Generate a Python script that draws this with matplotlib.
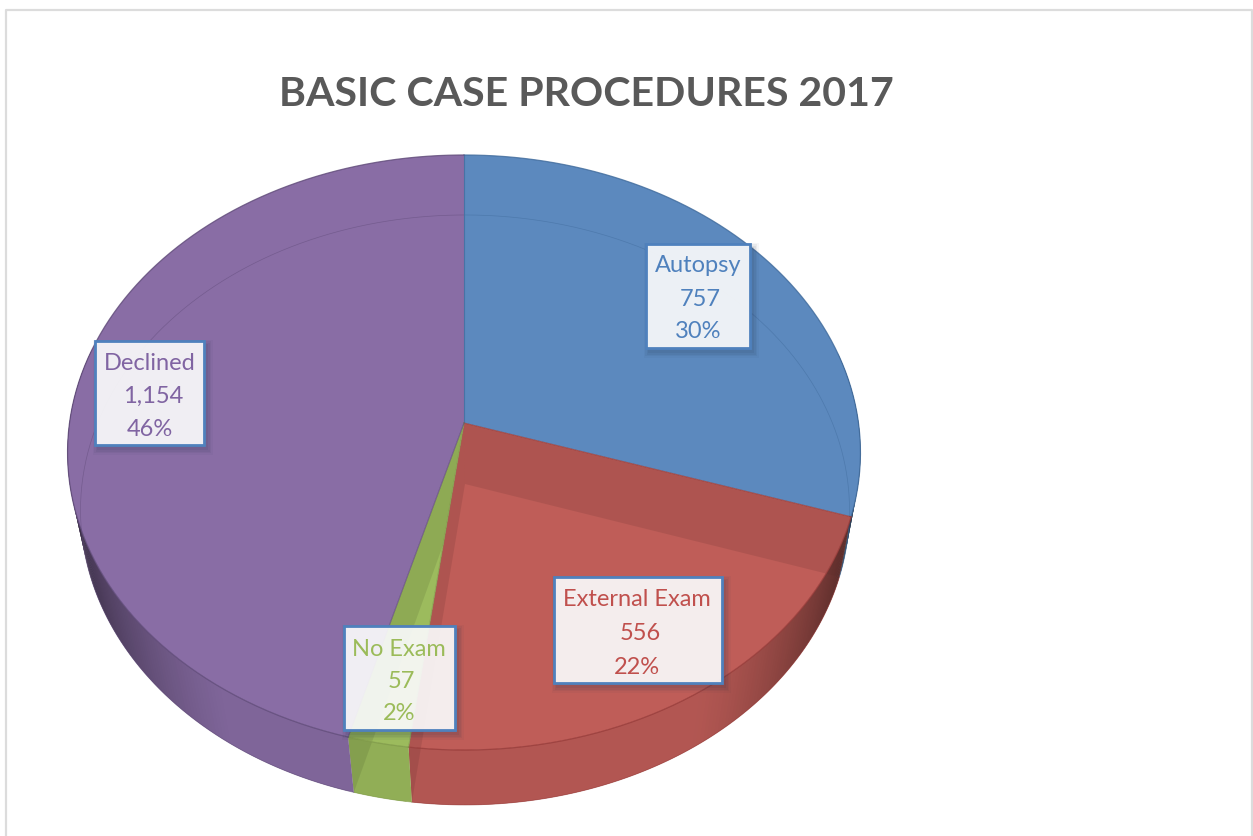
import numpy as np
import matplotlib
matplotlib.use("Agg")
import matplotlib.pyplot as plt
from matplotlib.patches import Polygon, Rectangle
from matplotlib.colors import to_rgb

# ---- data ----
categories = ["Autopsy", "External Exam", "No Exam", "Declined"]
values = [757, 556, 57, 1154]
percent_labels = ["30%", "22%", "2%", "46%"]

# ---- style ----
top_colors = ["#5c89be", "#bf5d58", "#9cbb5d", "#896da5"]
edge_colors = ["#3f6a9b", "#963a38", "#7f9a48", "#5f4a78"]
text_colors = ["#4f81bd", "#c0504d", "#9bbb59", "#8064a2"]
box_rects = [(646, 244, 750, 348), (554, 577, 722, 683), (344, 626, 455, 730), (95, 341, 204, 445)]
text_x = [698, 637, 399, 150]
text_y = [[266, 299, 332], [600, 634, 667], [649, 682, 714], [364, 396, 429]]
line_dx = [[0, 2, 0], [0, 3, 0], [0, 2, 0], [0, 3, 0]]
walls = {1: [0, 1], 2: [1]}   # wedge index -> radial walls seen through the top face

TOP = dict(cx=464.0, cy=423.0, R=394.5, H=294.6, k=0.0992)
BOT = dict(cx=465.0, cy=484.0, R=383.0, H=292.7, k=0.088)


def project(theta, p):
    x, y = np.sin(theta), np.cos(theta)
    w = 1.0 / (1.0 + p["k"] * y)
    return p["cx"] + p["R"] * x * w, p["cy"] - p["H"] * y * w


def pts(theta, p):
    return np.column_stack(project(np.asarray(theta), p))


def shade(rgb, f):
    return tuple(np.clip(np.array(rgb) * f, 0, 1))


fig = plt.figure(figsize=(12.53, 8.36), dpi=100, facecolor="white")
ax = fig.add_axes([0, 0, 1, 1])
ax.set_xlim(0, 1253)
ax.set_ylim(836, 0)
ax.axis("off")

# outer frame
ax.plot([5.5, 5.5, 1252, 1252], [836, 10, 10, 836], color="#dcdcdc", lw=1.6, zorder=0)

fractions = np.array(values) / np.sum(values)
edges = np.concatenate([[0], np.cumsum(fractions)]) * 2 * np.pi
apex_top = np.array([TOP["cx"], TOP["cy"]])
apex_bot = np.array([BOT["cx"], BOT["cy"]])


def wedge_poly(i, p, apex):
    t = np.linspace(edges[i], edges[i + 1], 200)
    return np.vstack([apex, pts(t, p)])


def wall_poly(theta):
    a = pts([theta], TOP)[0]
    b = pts([theta], BOT)[0]
    return np.vstack([apex_top, a, b, apex_bot])


# side faces
for i, col in enumerate(top_colors):
    rgb = to_rgb(col)
    t = np.linspace(edges[i], edges[i + 1], max(int((edges[i + 1] - edges[i]) * 90), 4))
    step = t[1] - t[0]
    for a, b in zip(t[:-1], t[1:]):
        if np.cos((a + b) / 2) > 0.25:
            continue
        u = abs(np.sin((a + b) / 2))
        f = 0.93 - 0.52 * (max(0.0, u - 0.55) / 0.45) ** 1.3
        b2 = min(b + step, edges[i + 1])
        q = np.vstack([pts([a, b2], TOP), pts([b2, a], BOT)])
        ax.add_patch(Polygon(q, closed=True, fc=shade(rgb, f), ec="none", zorder=1))
    # radial walls seen through the side
    if i in walls:
        tt = np.linspace(edges[i], edges[i + 1], 200)
        sp = np.vstack([pts(tt, TOP), pts(tt[::-1], BOT)])
        clip = Polygon(sp, closed=True, transform=ax.transData)
        for w in walls[i]:
            patch = ax.add_patch(Polygon(wall_poly(edges[i + w]), closed=True,
                                         fc=shade(rgb, 0.45), ec="none", alpha=0.16, zorder=2))
            patch.set_clip_path(clip)
    # lower silhouette
    mask = np.cos(t) < 0.25
    if mask.any():
        ax.plot(*project(t[mask], BOT), color=edge_colors[i], lw=0.6, alpha=0.6, zorder=2)

# top faces, with what shows through them
for i, col in enumerate(top_colors):
    rgb = to_rgb(col)
    poly = wedge_poly(i, TOP, apex_top)
    ax.add_patch(Polygon(poly, closed=True, fc=col, ec="none", zorder=3))
    clip = Polygon(poly, closed=True, transform=ax.transData)
    if i in walls:
        for w in walls[i]:
            patch = ax.add_patch(Polygon(wall_poly(edges[i + w]), closed=True,
                                         fc=shade(rgb, 0.45), ec="none", alpha=0.16, zorder=4))
            patch.set_clip_path(clip)
    else:
        t = np.linspace(edges[i], edges[i + 1], 300)
        line, = ax.plot(*project(t, BOT), color=edge_colors[i], lw=0.5, alpha=0.5, zorder=4)
        line.set_clip_path(clip)

for i in range(len(values)):
    t = np.linspace(edges[i], edges[i + 1], 200)
    ax.plot(*project(t, TOP), color=edge_colors[i], lw=0.9, alpha=0.8, zorder=5)
    rim = pts([edges[i]], TOP)[0]
    ax.plot([apex_top[0], rim[0]], [apex_top[1], rim[1]], color=edge_colors[i], lw=0.8, alpha=0.7, zorder=5)

# data labels
for i, name in enumerate(categories):
    x0, y0, x1, y1 = box_rects[i]
    for grow, a in zip([11, 8, 5, 2], [0.04, 0.06, 0.07, 0.08]):
        ax.add_patch(Rectangle((x0 + 3 - grow / 2, y0 + 4 - grow / 2), x1 - x0 + grow, y1 - y0 + grow,
                               fc="#20304a", ec="none", alpha=a, zorder=6))
    ax.add_patch(Rectangle((x0, y0), x1 - x0, y1 - y0, fc="white", ec="none", alpha=0.9, zorder=7))
    ax.add_patch(Rectangle((x0, y0), x1 - x0, y1 - y0, fc="none", ec="#4f81bd", lw=2.0, zorder=8))
    lines = [name, f"{values[i]:,}", percent_labels[i]]
    for line_text, yy, dx in zip(lines, text_y[i], line_dx[i]):
        ax.text(text_x[i] + dx, yy, line_text, color=text_colors[i], fontsize=17, family="Lato",
                ha="center", va="center", zorder=9)

ax.text(586.5, 95, "BASIC CASE PROCEDURES 2017", color="#595959", fontsize=29.6,
        family="Lato", fontweight="bold", ha="center", va="center", zorder=9)

fig.savefig("out.png", dpi=100, facecolor="white")
